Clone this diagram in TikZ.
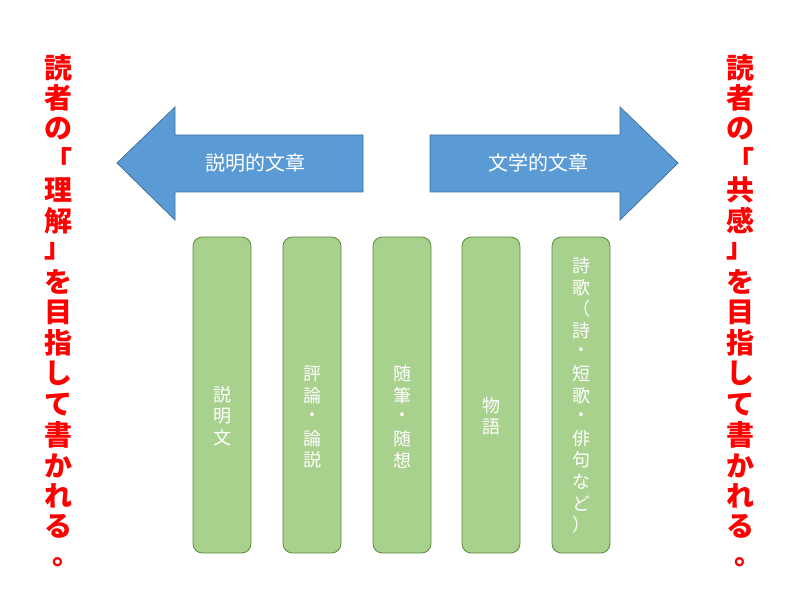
\documentclass[tikz,border=0pt]{standalone}
\usepackage{fontspec}
\setmainfont{Noto Sans CJK JP}
\usetikzlibrary{positioning}
\definecolor{arrowblue}{HTML}{5B9BD5}
\definecolor{arrowline}{HTML}{41719C}
\definecolor{boxgreen}{HTML}{A9D18E}
\definecolor{boxline}{HTML}{70AD47}
\tikzstyle{bigarrow}=[fill=arrowblue,draw=arrowline,line width=.6pt]
\tikzstyle{genre}=[rounded corners=7pt,fill=boxgreen,draw=boxline!80!black,line width=.6pt,minimum width=43.5pt,minimum height=237pt]
\tikzstyle{vlabel}=[text=white,font=\fontsize{13.5}{16.2}\selectfont,inner sep=0pt]
\tikzstyle{slogan}=[text=red,font=\fontsize{21}{23}\selectfont\bfseries,inner sep=0pt]
\begin{document}
\begin{tikzpicture}[x=0.75pt,y=-0.75pt]
	\useasboundingbox (0,0) rectangle (795,595);
	% arrows
	\draw[bigarrow] (117,163) -- (175,107) -- (175,135) -- (363,135) -- (363,192) -- (175,192) -- (175,220) -- cycle;
	\draw[bigarrow] (678,163) -- (620,107) -- (620,135) -- (430,135) -- (430,192) -- (620,192) -- (620,220) -- cycle;
	\node[text=white,font=\fontsize{15}{18}\selectfont] (expl) at (255,163) {説明的文章};
	\node[text=white,font=\fontsize{15}{18}\selectfont] (lit)  at (538,163) {文学的文章};
	% genres
	\node[genre] (g1) at (222,395) {};
	\node[genre] (g2) at (312,395) {};
	\node[genre] (g3) at (402,395) {};
	\node[genre] (g4) at (491,395) {};
	\node[genre] (g5) at (581,395) {};
	\foreach \ch [count=\i] in {説,明,文}
		\node[vlabel] at (222,373+21.6*\i) {\ch};
	\foreach \ch [count=\i] in {評,論,・,論,説}
		\node[vlabel] at (312,352+21.6*\i) {\ch};
	\foreach \ch [count=\i] in {随,筆,・,随,想}
		\node[vlabel] at (402,352+21.6*\i) {\ch};
	\foreach \ch [count=\i] in {物,語}
		\node[vlabel] at (491,384+21.6*\i) {\ch};
	\foreach \ch [count=\i] in {詩,歌,（,詩,・,短,歌,・,俳,句,な,ど,）}
		\node[vlabel] at (581,244+21.6*\i) {\ch};
	% slogans
	\foreach \ch [count=\i] in {読,者,の,「,理,解,」,を,目,指,し,て,書,か,れ,る}
		\node[slogan] at (58,37+30.6*\i) {\ch};
	\node[slogan] at (66,562) {。};
	\foreach \ch [count=\i] in {読,者,の,「,共,感,」,を,目,指,し,て,書,か,れ,る}
		\node[slogan] at (740,37+30.6*\i) {\ch};
	\node[slogan] at (748,562) {。};
\end{tikzpicture}
\end{document}
